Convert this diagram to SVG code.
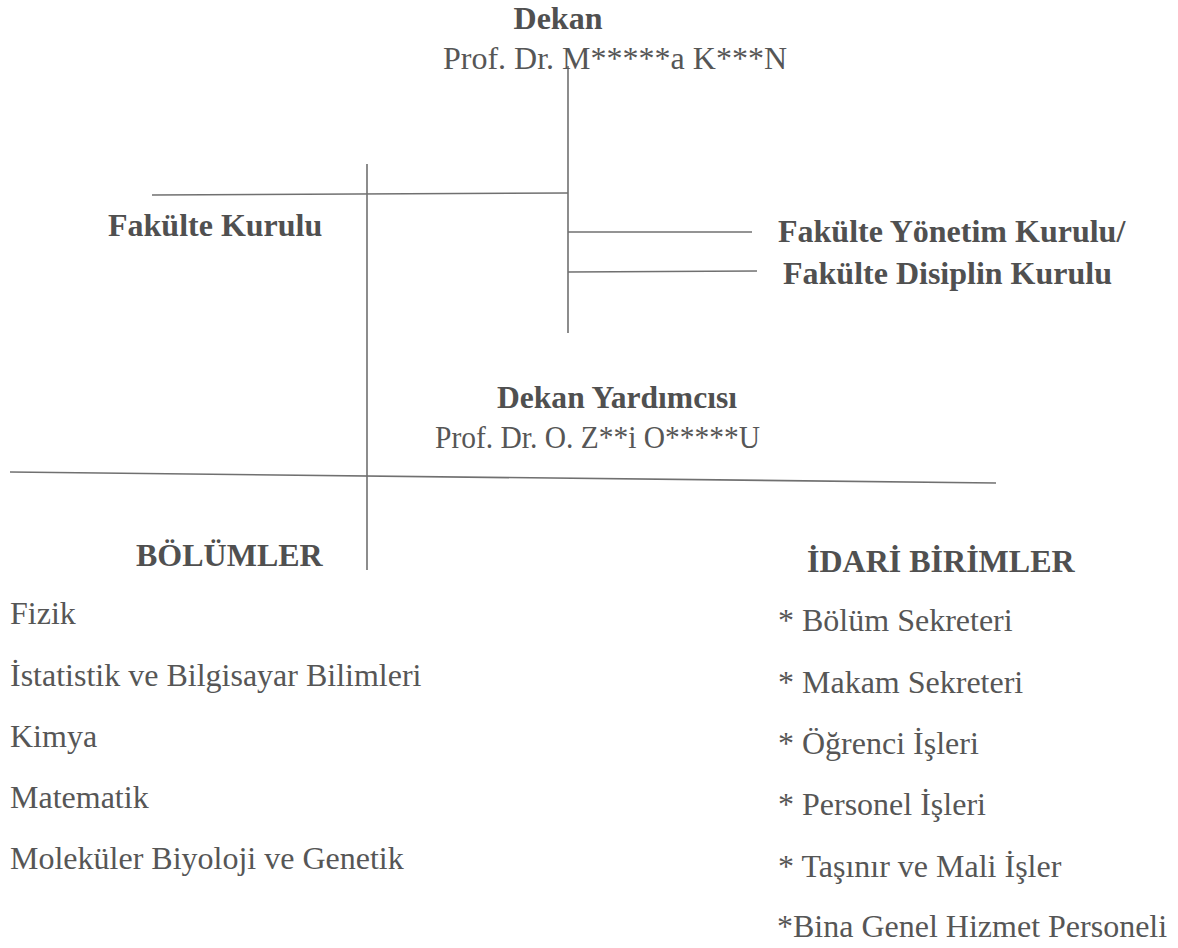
<svg xmlns="http://www.w3.org/2000/svg" width="1178" height="948" viewBox="0 0 1178 948">
<style>
text{font-family:"Liberation Serif","Times New Roman","DejaVu Serif",serif;font-size:32px;fill:#565656}
.b{font-weight:bold;fill:#505050}
.ln{stroke:#707070;stroke-width:1.6;fill:none}
</style>
<rect width="1178" height="948" fill="#fff"/>
<g id="connectors">
<line class="ln" x1="568" y1="66" x2="568" y2="333"/>
<line class="ln" x1="152" y1="195" x2="568" y2="193"/>
<line class="ln" x1="367" y1="164" x2="367" y2="570"/>
<line class="ln" x1="568" y1="232" x2="752" y2="232"/>
<line class="ln" x1="568" y1="272" x2="757" y2="271"/>
<line class="ln" x1="10" y1="472" x2="996" y2="483"/>
</g>
<g id="dekan">
<text class="b" x="558" y="29" text-anchor="middle">Dekan</text>
<text x="443" y="69">Prof. Dr. M*****a K***N</text>
</g>
<g id="fakulte-kurulu">
<text class="b" x="108" y="236">Fakülte Kurulu</text>
</g>
<g id="yonetim-kurulu">
<text class="b" x="778" y="242">Fakülte Yönetim Kurulu/</text>
<text class="b" x="783" y="284">Fakülte Disiplin Kurulu</text>
</g>
<g id="dekan-yardimcisi">
<text class="b" x="497" y="408" textLength="240" lengthAdjust="spacingAndGlyphs">Dekan Yardımcısı</text>
<text x="435" y="448" textLength="325" lengthAdjust="spacingAndGlyphs">Prof. Dr. O. Z**i  O*****U</text>
</g>
<g id="bolumler">
<text class="b" x="136" y="566">BÖLÜMLER</text>
<text x="10" y="624">Fizik</text>
<text x="10" y="686">İstatistik ve Bilgisayar Bilimleri</text>
<text x="10" y="747">Kimya</text>
<text x="10" y="808">Matematik</text>
<text x="10" y="869">Moleküler Biyoloji ve Genetik</text>
</g>
<g id="idari-birimler">
<text class="b" x="807" y="572">İDARİ BİRİMLER</text>
<text x="778" y="631">* Bölüm Sekreteri</text>
<text x="778" y="693">* Makam Sekreteri</text>
<text x="778" y="754">* Öğrenci İşleri</text>
<text x="778" y="815">* Personel İşleri</text>
<text x="778" y="877">* Taşınır ve Mali İşler</text>
<text x="777" y="937">*Bina Genel Hizmet Personeli</text>
</g>
</svg>
